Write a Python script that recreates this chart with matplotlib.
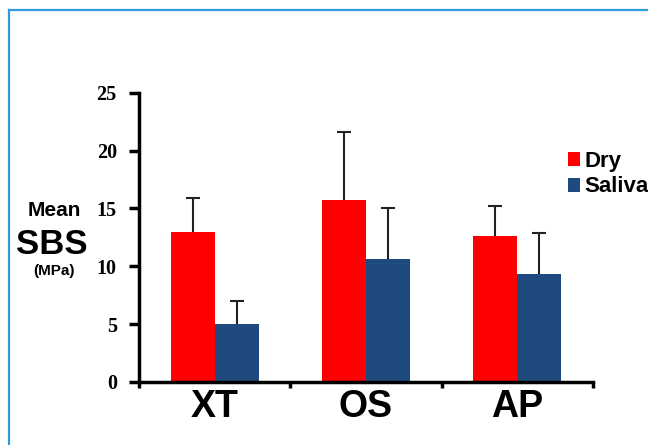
import matplotlib.pyplot as plt
import numpy as np
from matplotlib.lines import Line2D

# Data
groups = ['XT', 'OS', 'AP']
dry_mean = [12.95, 15.7, 12.6]
dry_err = [2.95, 5.9, 2.65]
saliva_mean = [5.0, 10.6, 9.3]
saliva_err = [2.0, 4.4, 3.6]

red = '#FF0000'
blue = '#1F4A7E'

fig = plt.figure(figsize=(6.48, 4.45), dpi=100)
ax = fig.add_axes([0.2145, 0.1416, 0.915 - 0.2145, 0.7917 - 0.1416])

x = np.arange(len(groups))
w = 0.29
ax.bar(x - w / 2, dry_mean, w, color=red, label='Dry')
ax.bar(x + w / 2, saliva_mean, w, color=blue, label='Saliva')

# upper error bars only
for xs, m, e in [(x - w / 2, dry_mean, dry_err), (x + w / 2, saliva_mean, saliva_err)]:
    _, caps, _ = ax.errorbar(xs, m, yerr=[np.zeros(3), e], fmt='none',
                             ecolor='#222222', elinewidth=1.5, capsize=4.8,
                             capthick=1.5)
    caps[0].set_visible(False)

ax.set_xlim(-0.5, 2.5)
ax.set_ylim(0, 25)
ax.set_yticks([0, 5, 10, 15, 20, 25])
ax.set_yticklabels(['0', '5', '10', '15', '20', '25'],
                   fontfamily='Liberation Serif', fontweight='bold', fontsize=14.5)

# boundaries get tick marks, group names sit in between
ax.set_xticks([-0.5, 0.5, 1.5, 2.5])
ax.set_xticklabels([])
ax.set_xticks(x, minor=True)
ax.set_xticklabels(groups, minor=True, fontfamily='Liberation Sans',
                   fontweight='bold', fontsize=27)
ax.tick_params(axis='x', which='major', length=4, width=2.5, direction='out')
ax.tick_params(axis='x', which='minor', length=0, pad=5)
ax.tick_params(axis='y', length=7, width=2.5, pad=9)

for s in ['top', 'right']:
    ax.spines[s].set_visible(False)
for s in ['left', 'bottom']:
    ax.spines[s].set_linewidth(2.5)

# y label made of three pieces
fig.text(54 / 648, 1 - 211 / 445, 'Mean', ha='center', va='center',
         fontfamily='Liberation Sans', fontweight='bold', fontsize=15)
fig.text(52 / 648, 1 - 245 / 445, 'SBS', ha='center', va='center',
         fontfamily='Liberation Sans', fontweight='bold', fontsize=25)
fig.text(54 / 648, 1 - 271 / 445, '(MPa)', ha='center', va='center',
         fontfamily='Liberation Sans', fontweight='bold', fontsize=11)

ax.legend(loc='upper left', bbox_to_anchor=(568 / 648, 1 - 151 / 445),
          bbox_transform=fig.transFigure, frameon=False,
          prop={'family': 'Liberation Sans', 'weight': 'bold', 'size': 16},
          handlelength=0.55, handleheight=0.6, handletextpad=0.2,
          labelspacing=0.2, borderpad=0, borderaxespad=0)

# light blue frame around the slide
fc = '#2D9BE0'
fig.add_artist(Line2D([9 / 648, 9 / 648], [0, 1 - 10 / 445],
                      transform=fig.transFigure, color=fc, lw=1.6))
fig.add_artist(Line2D([9 / 648, 1], [1 - 10 / 445, 1 - 10 / 445],
                      transform=fig.transFigure, color=fc, lw=1.6))

fig.savefig('out.png', dpi=100)
